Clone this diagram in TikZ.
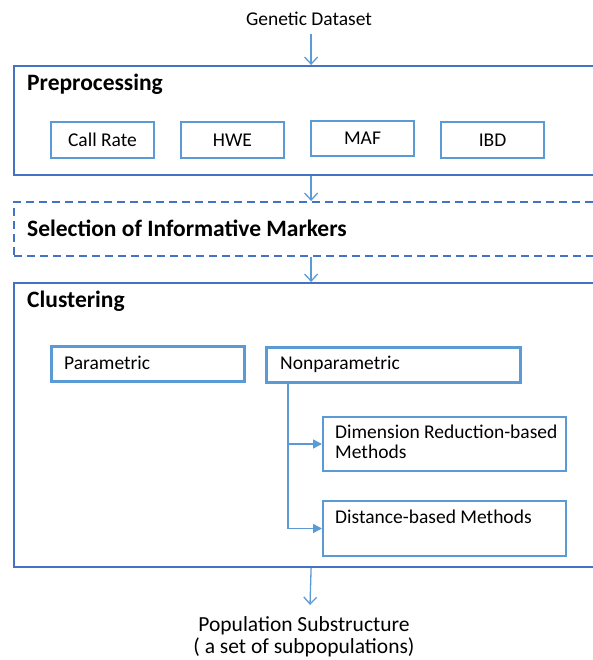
\documentclass[tikz,border=0pt]{standalone}
\usepackage{fontspec}
\setmainfont{Carlito}
\usetikzlibrary{arrows.meta}
\definecolor{bigc}{RGB}{68,114,196}
\definecolor{smallc}{RGB}{91,155,213}
\begin{document}
\begin{tikzpicture}[x=1pt,y=-1pt,
  txt/.style={font=\fontsize{19.5}{20}\selectfont, inner sep=0pt},
  head/.style={font=\fontsize{23.5}{24}\selectfont\bfseries, inner sep=0pt, anchor=west},
  bigbox/.style={draw=bigc, line width=2.2pt, anchor=north west, inner sep=0pt},
  dashbox/.style={draw=bigc, line width=2.2pt, dashed, dash pattern=on 8pt off 5pt, anchor=north west, inner sep=0pt},
  qbox/.style={draw=smallc, line width=2pt, anchor=north west, minimum width=103pt, minimum height=36pt, inner sep=0pt, font=\fontsize{19.5}{20}\selectfont},
  tbox/.style={draw=smallc, line width=3pt, anchor=north west, minimum height=35pt, inner sep=0pt},
  mbox/.style={draw=smallc, line width=2pt, anchor=north west, minimum width=243pt, inner sep=0pt},
  flow/.style={draw=smallc, line width=1.3pt, -{Straight Barb[length=7pt,width=13pt,line width=1.3pt]}},
  branch/.style={draw=smallc, line width=1.5pt, -{Triangle[length=9pt,width=9pt]}}
]
\useasboundingbox (0,0) rectangle (593,660);
\clip (0,0) rectangle (593,660);

% top label
\node[txt] (gd) at (309,19) {Genetic Dataset};

% Preprocessing
\node[bigbox, minimum width=594pt, minimum height=109pt] (pre) at (13,65) {};
\node[head] (pret) at (27,84) {Preprocessing};
\node[qbox] (cr) at (50,121) {Call Rate};
\node[qbox] (hwe) at (180,121) {HWE};
\node[qbox, minimum height=35pt] (maf) at (310,120) {MAF};
\node[qbox] (ibd) at (440,121) {IBD};

% Selection
\node[dashbox, minimum width=594pt, minimum height=54pt] (sel) at (13,201) {};
\node[head] (selt) at (27,228) {Selection of Informative Markers};

% Clustering
\node[bigbox, minimum width=594pt, minimum height=284pt] (clu) at (13,282) {};
\node[head] (clut) at (27,301) {Clustering};

\node[tbox, minimum width=193pt] (par) at (50,345) {};
\node[txt, anchor=west] (part) at (64,363) {Parametric};
\node[tbox, minimum width=254pt] (np) at (265,346) {};
\node[txt, anchor=west] (npt) at (280,364) {Nonparametric};

\node[mbox, minimum height=54pt] (dim) at (322,416) {};
\node[txt, anchor=west, align=left] (dimt) at (335,442) {Dimension Reduction-based\\Methods};
\node[mbox, minimum height=55pt] (dist) at (322,500) {};
\node[txt, anchor=west] (distt) at (335,517) {Distance-based Methods};

\coordinate (bstart) at (288,381);
\draw[branch] (bstart) |- (dim.west);
\draw[branch] (bstart) |- (dist.west);

% bottom label
\node[inner sep=0pt, font=\fontsize{21.5}{22}\selectfont, align=center] (pop) at (304,637) {Population Substructure\\( a set of subpopulations)};
\coordinate (popend) at (310,605);

% flow arrows
\draw[flow] ([yshift=-8pt]gd.south -| pre.north) -- (pre.north);
\draw[flow] (pre.south) -- (sel.north);
\draw[flow] (sel.south) -- (clu.north);
\draw[flow] (clu.south) -- (popend);
\end{tikzpicture}
\end{document}
